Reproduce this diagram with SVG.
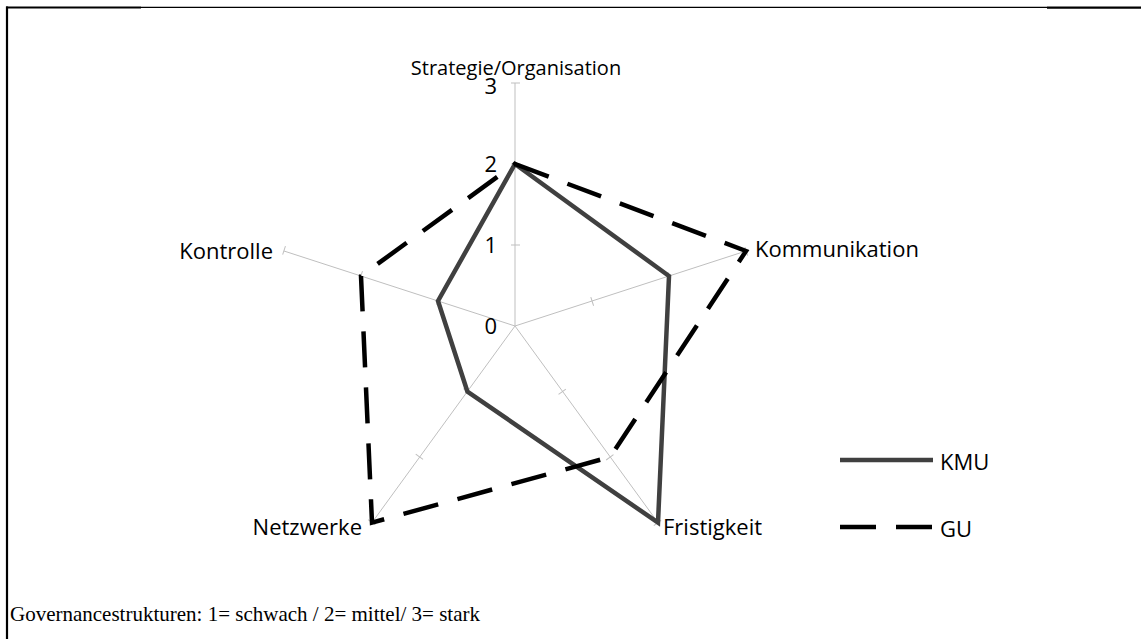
<svg xmlns="http://www.w3.org/2000/svg" width="1141" height="639" viewBox="0 0 1141 639">
<style>
.lbl{font-family:"Open Sans","Liberation Sans",sans-serif;font-size:22px;fill:#000}
.val{font-family:"Open Sans","Liberation Sans",sans-serif;font-size:22px;fill:#000;text-anchor:end}
.axis{stroke:#bfbfbf;stroke-width:1;fill:none}
.kmu{stroke:#404040;stroke-width:4.5;fill:none;stroke-linejoin:miter}
.gu{stroke:#000;stroke-width:4.5;fill:none;stroke-dasharray:36 20;stroke-linejoin:miter}
.foot{font-family:"Liberation Serif","Times New Roman",serif;font-size:21px;fill:#000}
</style>
<rect width="1141" height="639" fill="#fff"/>
<g id="frame">
<line x1="7" y1="6.5" x2="7" y2="639" stroke="#000" stroke-width="2.2"/>
<line x1="6" y1="7.5" x2="141" y2="7.5" stroke="#000" stroke-width="2.2"/>
<line x1="141" y1="7.3" x2="1047" y2="7.3" stroke="#000" stroke-width="1.2"/>
<line x1="1047" y1="7.6" x2="1141" y2="7.6" stroke="#000" stroke-width="2.4"/>
</g>
<g id="axes">
<line class="axis" x1="515" y1="326" x2="515" y2="83"/>
<line class="axis" x1="515" y1="326" x2="746" y2="251"/>
<line class="axis" x1="515" y1="326" x2="658" y2="522.6"/>
<line class="axis" x1="515" y1="326" x2="372" y2="522.6"/>
<line class="axis" x1="515" y1="326" x2="284" y2="251"/>
<line class="axis" x1="511" y1="245" x2="520" y2="245"/>
<line class="axis" x1="511" y1="164" x2="520" y2="164"/>
<line class="axis" x1="511" y1="83" x2="520" y2="83"/>
<g transform="rotate(-72 515 326)">
<line class="axis" x1="511" y1="245" x2="520" y2="245"/>
<line class="axis" x1="511" y1="164" x2="520" y2="164"/>
<line class="axis" x1="511" y1="83" x2="520" y2="83"/>
</g>
<g transform="rotate(-144 515 326)">
<line class="axis" x1="511" y1="245" x2="520" y2="245"/>
<line class="axis" x1="511" y1="164" x2="520" y2="164"/>
<line class="axis" x1="511" y1="83" x2="520" y2="83"/>
</g>
<g transform="rotate(144 515 326)">
<line class="axis" x1="511" y1="245" x2="520" y2="245"/>
<line class="axis" x1="511" y1="164" x2="520" y2="164"/>
<line class="axis" x1="511" y1="83" x2="520" y2="83"/>
</g>
<g transform="rotate(72 515 326)">
<line class="axis" x1="511" y1="245" x2="520" y2="245"/>
<line class="axis" x1="511" y1="164" x2="520" y2="164"/>
<line class="axis" x1="511" y1="83" x2="520" y2="83"/>
</g>
</g>
<g id="values">
<text class="val" x="497" y="94">3</text>
<text class="val" x="497" y="172">2</text>
<text class="val" x="497" y="253">1</text>
<text class="val" x="497" y="334">0</text>
</g>
<g id="node-strategie"><text class="lbl" x="516" y="75" text-anchor="middle" style="font-size:20px">Strategie/Organisation</text></g>
<g id="node-kommunikation"><text class="lbl" x="755" y="257">Kommunikation</text></g>
<g id="node-fristigkeit"><text class="lbl" x="663" y="535">Fristigkeit</text></g>
<g id="node-netzwerke"><text class="lbl" x="362" y="535" text-anchor="end">Netzwerke</text></g>
<g id="node-kontrolle"><text class="lbl" x="273" y="259" text-anchor="end">Kontrolle</text></g>
<g id="connectors">
<polygon class="kmu" points="515,164 669,276 658,522.6 467.4,391.5 438,301"/>
<polygon class="gu" points="515,164 746,251 610.2,457 372,522.6 361,276"/>
</g>
<g id="legend">
<line class="kmu" x1="840" y1="460" x2="933" y2="460"/>
<text class="lbl" x="940" y="470">KMU</text>
<line x1="840" y1="527" x2="876" y2="527" stroke="#000" stroke-width="4.5"/>
<line x1="896" y1="527" x2="932" y2="527" stroke="#000" stroke-width="4.5"/>
<text class="lbl" x="940" y="537">GU</text>
</g>
<g id="footer"><text class="foot" x="10" y="621">Governancestrukturen: 1= schwach / 2= mittel/ 3= stark</text></g>
</svg>
